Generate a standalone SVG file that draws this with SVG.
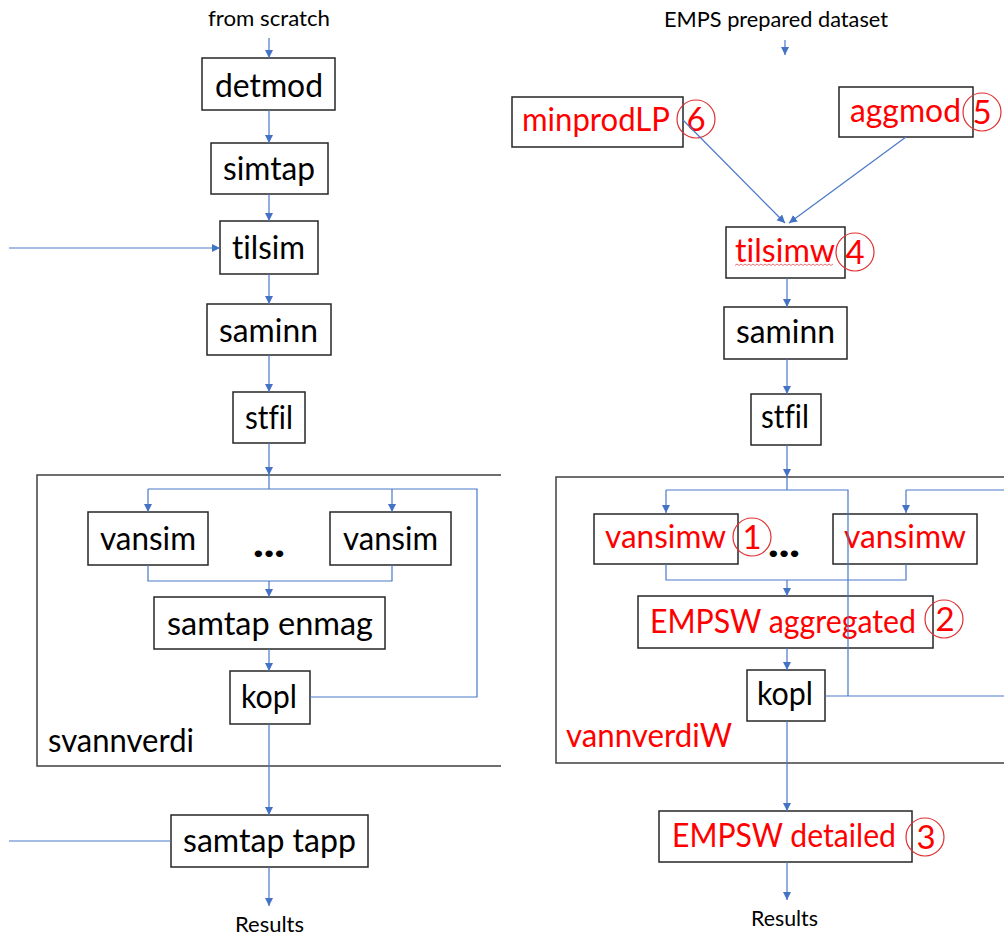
<svg xmlns="http://www.w3.org/2000/svg" width="1004" height="937" viewBox="0 0 1004 937">
<style>
text{font-variant-ligatures:none}
.box{fill:#fff;stroke:#262626;stroke-width:1.5}
.cont{fill:none;stroke:#404040;stroke-width:1.5}
.t{font-family:Lato,"Liberation Sans",sans-serif;font-size:33px;fill:#000}
.s{font-family:Lato,"Liberation Sans",sans-serif;font-size:22px;fill:#000}
.r{fill:#ff0000}
.c{fill:none;stroke:#e03030;stroke-width:1.2}
.n{font-family:Lato,"Liberation Sans",sans-serif;font-size:33px;fill:#ff0000;text-anchor:middle}
.d{font-family:Lato,"Liberation Sans",sans-serif;font-size:40px;font-weight:900;fill:#000}
.ln{fill:none;stroke:#4a78c8;stroke-width:1.2}
.ar{marker-end:url(#ah)}
</style>
<defs>
<marker id="ah" markerUnits="userSpaceOnUse" markerWidth="10" markerHeight="10" refX="8" refY="4" orient="auto">
<path d="M0,0 L8,4 L0,8 z" fill="#4472c4"/>
</marker>
</defs>
<rect width="1004" height="937" fill="#fff"/>

<!-- containers -->
<g id="svannverdi">
<path class="cont" d="M501,475 H37 V766 H501"/>
<text class="t" x="48" y="752" textLength="146" lengthAdjust="spacingAndGlyphs">svannverdi</text>
</g>
<g id="vannverdiW">
<path class="cont" d="M1004,477 H556 V763 H1004"/>
<text class="t r" x="566" y="747" textLength="166" lengthAdjust="spacingAndGlyphs">vannverdiW</text>
</g>

<!-- left column -->
<g id="from-scratch"><text class="s" x="208" y="26" textLength="122" lengthAdjust="spacingAndGlyphs">from scratch</text></g>
<g id="detmod"><rect class="box" x="202" y="58" width="133" height="52"/><text class="t" x="215" y="97" textLength="108" lengthAdjust="spacingAndGlyphs">detmod</text></g>
<g id="simtap"><rect class="box" x="211" y="143" width="117" height="51"/><text class="t" x="223" y="180" textLength="92" lengthAdjust="spacingAndGlyphs">simtap</text></g>
<g id="tilsim"><rect class="box" x="220" y="221" width="98" height="53"/><text class="t" x="232" y="259" textLength="73" lengthAdjust="spacingAndGlyphs">tilsim</text></g>
<g id="saminn-l"><rect class="box" x="207" y="304" width="124" height="51"/><text class="t" x="219" y="342" textLength="99" lengthAdjust="spacingAndGlyphs">saminn</text></g>
<g id="stfil-l"><rect class="box" x="233" y="392" width="72" height="51"/><text class="t" x="245" y="429" textLength="48" lengthAdjust="spacingAndGlyphs">stfil</text></g>
<g id="vansim-1"><rect class="box" x="88" y="512" width="120" height="53"/><text class="t" x="100" y="550" textLength="96" lengthAdjust="spacingAndGlyphs">vansim</text></g>
<g id="dots-l"><text class="d" x="253" y="557" textLength="32" lengthAdjust="spacingAndGlyphs">...</text></g>
<g id="vansim-2"><rect class="box" x="330" y="512" width="121" height="53"/><text class="t" x="343" y="550" textLength="95" lengthAdjust="spacingAndGlyphs">vansim</text></g>
<g id="samtap-enmag"><rect class="box" x="154" y="597" width="231" height="52"/><text class="t" x="167" y="635" textLength="206" lengthAdjust="spacingAndGlyphs">samtap enmag</text></g>
<g id="kopl-l"><rect class="box" x="230" y="671" width="80" height="53"/><text class="t" x="241" y="708" textLength="56" lengthAdjust="spacingAndGlyphs">kopl</text></g>
<g id="samtap-tapp"><rect class="box" x="171" y="815" width="197" height="52"/><text class="t" x="183" y="852" textLength="173" lengthAdjust="spacingAndGlyphs">samtap tapp</text></g>
<g id="results-l"><text class="s" x="235" y="932" textLength="69" lengthAdjust="spacingAndGlyphs">Results</text></g>

<!-- right column -->
<g id="emps-dataset"><text class="s" x="664" y="27" textLength="224" lengthAdjust="spacingAndGlyphs">EMPS prepared dataset</text></g>
<g id="minprodLP"><rect class="box" x="512" y="97" width="171" height="50"/><text class="t r" x="522" y="131" textLength="148" lengthAdjust="spacingAndGlyphs">minprodLP</text>
<circle class="c" cx="696" cy="119" r="19"/><text class="n" x="696" y="131">6</text></g>
<g id="aggmod"><rect class="box" x="839" y="87" width="134" height="50"/><text class="t r" x="850" y="122" textLength="111" lengthAdjust="spacingAndGlyphs">aggmod</text>
<circle class="c" cx="982" cy="112" r="19"/><text class="n" x="982" y="124">5</text></g>
<g id="tilsimw"><rect class="box" x="726" y="227" width="119" height="51"/><text class="t r" x="735" y="262" textLength="100" lengthAdjust="spacingAndGlyphs">tilsimw</text>
<path d="M735,265.5 l2,-1.5 l2,1.5 l2,-1.5 l2,1.5 l2,-1.5 l2,1.5 l2,-1.5 l2,1.5 l2,-1.5 l2,1.5 l2,-1.5 l2,1.5 l2,-1.5 l2,1.5 l2,-1.5 l2,1.5 l2,-1.5 l2,1.5 l2,-1.5 l2,1.5 l2,-1.5 l2,1.5 l2,-1.5 l2,1.5 l2,-1.5 l2,1.5 l2,-1.5 l2,1.5 l2,-1.5 l2,1.5 l2,-1.5 l2,1.5 l2,-1.5 l2,1.5 l2,-1.5 l2,1.5 l2,-1.5 l2,1.5 l2,-1.5 l2,1.5 l2,-1.5 l2,1.5 l2,-1.5 l2,1.5 l2,-1.5 l2,1.5 l2,-1.5 l2,1.5 l2,-1.5" fill="none" stroke="#e05050" stroke-width="0.8"/>
<circle class="c" cx="855" cy="252" r="19"/><text class="n" x="855" y="264">4</text></g>
<g id="saminn-r"><rect class="box" x="724" y="307" width="123" height="52"/><text class="t" x="736" y="343" textLength="99" lengthAdjust="spacingAndGlyphs">saminn</text></g>
<g id="stfil-r"><rect class="box" x="751" y="394" width="70" height="51"/><text class="t" x="761" y="428" textLength="48" lengthAdjust="spacingAndGlyphs">stfil</text></g>
<g id="vansimw-1"><rect class="box" x="594" y="514" width="144" height="50"/><text class="t r" x="605" y="548" textLength="121" lengthAdjust="spacingAndGlyphs">vansimw</text>
<circle class="c" cx="752" cy="537" r="19"/><text class="n" x="752" y="549">1</text></g>
<g id="dots-r"><text class="d" x="768" y="557" textLength="32" lengthAdjust="spacingAndGlyphs">...</text></g>
<g id="vansimw-2"><rect class="box" x="833" y="514" width="144" height="50"/><text class="t r" x="844" y="548" textLength="122" lengthAdjust="spacingAndGlyphs">vansimw</text></g>
<g id="empsw-aggregated"><rect class="box" x="638" y="596" width="295" height="52"/><text class="t r" x="650" y="633" font-size="31" textLength="266" lengthAdjust="spacingAndGlyphs">EMPSW aggregated</text>
<circle class="c" cx="944" cy="619" r="19"/><text class="n" x="945" y="631">2</text></g>
<g id="kopl-r"><rect class="box" x="747" y="670" width="78" height="51"/><text class="t" x="757" y="705" textLength="56" lengthAdjust="spacingAndGlyphs">kopl</text></g>
<g id="empsw-detailed"><rect class="box" x="659" y="811" width="253" height="51"/><text class="t r" x="672" y="847" textLength="224" lengthAdjust="spacingAndGlyphs">EMPSW detailed</text>
<circle class="c" cx="925" cy="837" r="19"/><text class="n" x="926" y="849">3</text></g>
<g id="results-r"><text class="s" x="751" y="926" textLength="67" lengthAdjust="spacingAndGlyphs">Results</text></g>

<!-- connectors (drawn on top, as in the reference) -->
<g id="connectors">
<path class="ln ar" d="M269,38 V58"/>
<path class="ln ar" d="M269,110 V143"/>
<path class="ln ar" d="M269,194 V221"/>
<path class="ln ar" d="M9,248 H220"/>
<path class="ln ar" d="M269,274 V304"/>
<path class="ln ar" d="M269,355 V392"/>
<path class="ln ar" d="M269,443 V475"/>
<path class="ln" d="M269,475 V489 M148,489 H392"/>
<path class="ln ar" d="M148,489 V512"/>
<path class="ln ar" d="M392,489 V512"/>
<path class="ln" d="M148,565 V581 H392 V565"/>
<path class="ln ar" d="M269,581 V597"/>
<path class="ln ar" d="M269,649 V671"/>
<path class="ln" d="M310,697 H477 V489 H392"/>
<path class="ln ar" d="M269,724 V815"/>
<path class="ln" d="M9,841 H171"/>
<path class="ln ar" d="M269,867 V906"/>

<path class="ln ar" d="M785,40 V55"/>
<path class="ln ar" d="M683,120 L785,223"/>
<path class="ln ar" d="M906,137 L789,223"/>
<path class="ln ar" d="M787,278 V307"/>
<path class="ln ar" d="M787,359 V394"/>
<path class="ln ar" d="M787,445 V477"/>
<path class="ln" d="M787,477 V490 M666,490 H848 V696 M825,696 H1004 M1004,490 H906"/>
<path class="ln ar" d="M666,490 V513"/>
<path class="ln ar" d="M906,490 V513"/>
<path class="ln" d="M666,564 V580 H906 V564"/>
<path class="ln ar" d="M787,580 V596"/>
<path class="ln ar" d="M787,648 V670"/>
<path class="ln ar" d="M787,721 V811"/>
<path class="ln ar" d="M787,862 V900"/>
</g>
</svg>
